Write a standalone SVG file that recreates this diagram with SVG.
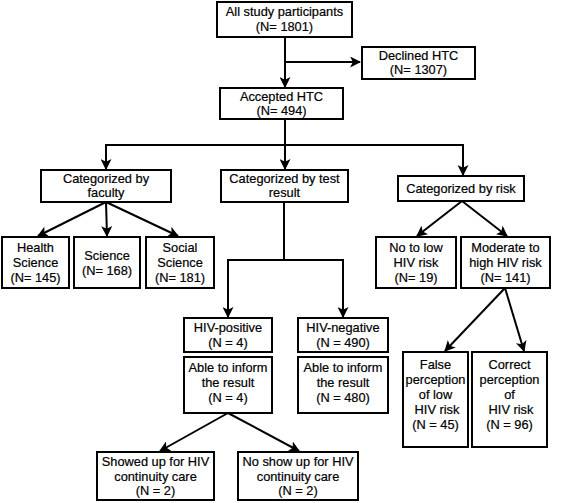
<svg xmlns="http://www.w3.org/2000/svg" width="567" height="503" viewBox="0 0 567 503">
<defs>
<marker id="ah" viewBox="0 0 10 10" refX="9" refY="5" markerWidth="5.5" markerHeight="5.5" orient="auto" markerUnits="strokeWidth">
<path d="M0,0 L10,5 L0,10 L2.5,5 z" fill="#000"/>
</marker>
<style>
rect{fill:#fff;stroke:#000;stroke-width:2}
text{font-family:"Liberation Sans",Arial,sans-serif;font-size:12.8px;fill:#000;stroke:#000;stroke-width:0.2;text-anchor:middle}
#connectors path,#connectors line{fill:none;stroke:#000;stroke-width:2}
.a{marker-end:url(#ah)}
</style>
</defs>
<rect x="0" y="0" width="567" height="503" style="fill:#fff;stroke:none"/>
<g id="connectors">
<line x1="285" y1="37" x2="285" y2="87" class="a"/>
<line x1="285" y1="62" x2="360" y2="62" class="a"/>
<line x1="285" y1="119" x2="285" y2="145"/>
<line x1="106" y1="145" x2="463" y2="145"/>
<line x1="106" y1="144" x2="106" y2="169" class="a"/>
<line x1="285" y1="145" x2="285" y2="169" class="a"/>
<line x1="463" y1="144" x2="463" y2="175" class="a"/>
<line x1="106" y1="202" x2="38" y2="236" class="a"/>
<line x1="106" y1="202" x2="107" y2="236" class="a"/>
<line x1="106" y1="202" x2="178" y2="236" class="a"/>
<path d="M284,202 V260 M228,260 H343"/>
<line x1="228" y1="259" x2="228" y2="317" class="a"/>
<line x1="343" y1="259" x2="343" y2="317" class="a"/>
<line x1="462" y1="201" x2="417" y2="236" class="a"/>
<line x1="462" y1="201" x2="507" y2="236" class="a"/>
<line x1="228" y1="413" x2="160" y2="451" class="a"/>
<line x1="228" y1="413" x2="299" y2="451" class="a"/>
<line x1="505" y1="288" x2="445" y2="351" class="a"/>
<line x1="505" y1="288" x2="524" y2="351" class="a"/>
</g>
<g id="n-all"><rect x="217" y="2" width="135" height="35"/><text x="284.5" y="16">All study participants</text><text x="284.5" y="31">(N= 1801)</text></g>
<g id="n-declined"><rect x="362" y="47" width="113" height="32"/><text x="418.5" y="60">Declined HTC</text><text x="418.5" y="74">(N= 1307)</text></g>
<g id="n-accepted"><rect x="220" y="88" width="123" height="31"/><text x="281.5" y="101">Accepted HTC</text><text x="281.5" y="115">(N= 494)</text></g>
<g id="n-faculty"><rect x="41" y="170" width="130" height="32"/><text x="106" y="183">Categorized by</text><text x="106" y="197">faculty</text></g>
<g id="n-test"><rect x="221" y="170" width="127" height="32"/><text x="284.5" y="183">Categorized by test</text><text x="284.5" y="197">result</text></g>
<g id="n-risk"><rect x="398" y="176" width="126" height="25"/><text x="461" y="193">Categorized by risk</text></g>
<g id="n-health"><rect x="2" y="237" width="67" height="51"/><text x="35.5" y="252">Health</text><text x="35.5" y="267">Science</text><text x="35.5" y="282">(N= 145)</text></g>
<g id="n-science"><rect x="74" y="237" width="66" height="51"/><text x="107" y="260">Science</text><text x="107" y="275">(N= 168)</text></g>
<g id="n-social"><rect x="146" y="237" width="68" height="51"/><text x="180" y="252">Social</text><text x="180" y="267">Science</text><text x="180" y="282">(N= 181)</text></g>
<g id="n-nolow"><rect x="376" y="237" width="80" height="51"/><text x="416" y="252">No to low</text><text x="416" y="267">HIV risk</text><text x="416" y="282">(N= 19)</text></g>
<g id="n-moderate"><rect x="461" y="237" width="89" height="51"/><text x="505.5" y="252">Moderate to</text><text x="505.5" y="267">high HIV risk</text><text x="505.5" y="282">(N= 141)</text></g>
<g id="n-pos"><rect x="184" y="318" width="88" height="34"/><text x="228" y="332">HIV-positive</text><text x="228" y="347">(N = 4)</text></g>
<g id="n-posinform"><rect x="184" y="357" width="88" height="56"/><text x="228" y="372">Able to inform</text><text x="228" y="387">the result</text><text x="228" y="402">(N = 4)</text></g>
<g id="n-neg"><rect x="298" y="318" width="90" height="34"/><text x="343" y="332">HIV-negative</text><text x="343" y="347">(N = 490)</text></g>
<g id="n-neginform"><rect x="298" y="357" width="90" height="56"/><text x="343" y="372">Able to inform</text><text x="343" y="387">the result</text><text x="343" y="402">(N = 480)</text></g>
<g id="n-false"><rect x="403" y="352" width="65" height="95"/><text x="435.5" y="369">False</text><text x="435.5" y="384">perception</text><text x="435.5" y="399">of low</text><text x="437" y="414">HIV risk</text><text x="435.5" y="429">(N = 45)</text></g>
<g id="n-correct"><rect x="472" y="352" width="75" height="95"/><text x="509.5" y="369">Correct</text><text x="509.5" y="384">perception</text><text x="509.5" y="399">of</text><text x="511" y="414">HIV risk</text><text x="509.5" y="429">(N = 96)</text></g>
<g id="n-showed"><rect x="97" y="452" width="117" height="48"/><text x="155.5" y="466">Showed up for HIV</text><text x="155.5" y="481">continuity care</text><text x="155.5" y="495">(N = 2)</text></g>
<g id="n-noshow"><rect x="238" y="452" width="120" height="48"/><text x="298" y="466">No show up for HIV</text><text x="298" y="481">continuity care</text><text x="298" y="495">(N = 2)</text></g>
</svg>
